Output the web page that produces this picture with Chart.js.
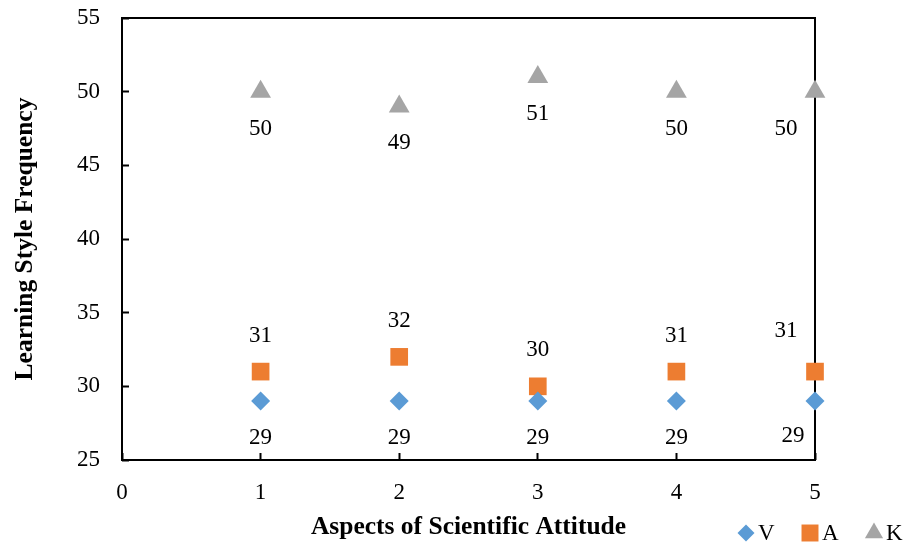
<!DOCTYPE html>
<html>
<head>
<meta charset="utf-8">
<script src="https://cdn.jsdelivr.net/npm/chart.js@4"></script>
<style>
  html, body { margin: 0; padding: 0; background: #fff; }
  #wrap { width: 907px; height: 546px; }
</style>
</head>
<body>
<div id="wrap"><canvas id="chart"></canvas></div>
<script>
// Data
const aspects = [1, 2, 3, 4, 5];
const visual = [29, 29, 29, 29, 29];
const auditory = [31, 32, 30, 31, 31];
const kinesthetic = [50, 49, 51, 50, 50];
const seriesNames = ["V", "A", "K"];

const FONT = '"Liberation Serif", "Times New Roman", serif';

const toPoints = vals => aspects.map((x, i) => ({ x: x, y: vals[i] }));

// Frame round the plot area (drawn under the markers)
const frame = {
  id: "frame",
  beforeDatasetsDraw(chart) {
    const { left, top, right, bottom } = chart.chartArea;
    const ctx = chart.ctx;
    ctx.save();
    ctx.strokeStyle = "#000";
    ctx.lineWidth = 2;
    ctx.strokeRect(left, top, right - left, bottom - top);
    ctx.restore();
  }
};

// Value labels next to the markers
const pointLabels = {
  id: "pointLabels",
  afterDatasetsDraw(chart) {
    const ctx = chart.ctx;
    ctx.save();
    ctx.font = "23px " + FONT;
    ctx.fillStyle = "#000";
    ctx.textAlign = "center";
    ctx.textBaseline = "middle";
    chart.data.datasets.forEach((ds, i) => {
      const meta = chart.getDatasetMeta(i);
      meta.data.forEach((pt, j) => {
        const last = j === meta.data.length - 1;
        let dx = last ? -29 : 0;
        let dy = ds.label === "A" ? -36 : 37;
        if (last && ds.label === "A") dy = -41;
        if (last && ds.label === "V") { dx = -22; dy = 35; }
        ctx.fillText(ds.data[j].y, pt.x + dx, pt.y + dy);
      });
    });
    ctx.restore();
  }
};

// Legend on the same row as the x title, bottom right
const bottomLegend = {
  id: "bottomLegend",
  afterDraw(chart) {
    const ctx = chart.ctx;
    const y = 533;
    const sizes = { rectRot: 8.5, rect: 12, triangle: 10.5 };
    ctx.save();
    ctx.font = "23px " + FONT;
    ctx.textAlign = "left";
    ctx.textBaseline = "middle";
    chart.data.datasets.forEach((ds, i) => {
      const cx = 746 + i * 64;
      ctx.fillStyle = ds.backgroundColor;
      ctx.strokeStyle = ds.borderColor;
      Chart.helpers.drawPoint(ctx, {
        pointStyle: ds.pointStyle,
        radius: sizes[ds.pointStyle],
        rotation: 0,
        borderWidth: 0
      }, cx, y);
      ctx.fillStyle = "#000";
      ctx.fillText(ds.label, cx + 12, y + 1);
    });
    ctx.restore();
  }
};

const tickFont = { family: FONT, size: 23 };
const titleFont = { family: FONT, size: 25.5, weight: "bold" };

new Chart(document.getElementById("chart"), {
  type: "scatter",
  data: {
    datasets: [
      {
        label: seriesNames[0],
        data: toPoints(visual),
        pointStyle: "rectRot",
        pointRadius: 9.5,
        backgroundColor: "#5B9BD5",
        borderColor: "#5B9BD5",
        borderWidth: 0,
        clip: false
      },
      {
        label: seriesNames[1],
        data: toPoints(auditory),
        pointStyle: "rect",
        pointRadius: 12.5,
        backgroundColor: "#ED7D31",
        borderColor: "#ED7D31",
        borderWidth: 0,
        clip: false
      },
      {
        label: seriesNames[2],
        data: toPoints(kinesthetic),
        pointStyle: "triangle",
        pointRadius: 12,
        backgroundColor: "#A5A5A5",
        borderColor: "#A5A5A5",
        borderWidth: 0,
        clip: false
      }
    ]
  },
  options: {
    responsive: true,
    maintainAspectRatio: false,
    animation: false,
    layout: { padding: { left: 0, right: 92, top: 0, bottom: 0 } },
    plugins: {
      legend: { display: false },
      tooltip: { enabled: false }
    },
    scales: {
      x: {
        type: "linear",
        min: 0,
        max: 5,
        ticks: { stepSize: 1, color: "#000", font: tickFont, padding: 26 },
        grid: { drawOnChartArea: false, tickLength: -7, tickColor: "#000", tickWidth: 2 },
        border: { display: false },
        title: {
          display: true,
          text: "Aspects of Scientific Attitude",
          color: "#000",
          font: titleFont,
          padding: { top: 0, bottom: 3 }
        },
        afterFit: s => { s.height = 86; }
      },
      y: {
        min: 25,
        max: 55,
        ticks: { stepSize: 5, color: "#000", font: tickFont, padding: 29 },
        grid: { drawOnChartArea: false, tickLength: -7, tickColor: "#000", tickWidth: 2 },
        border: { display: false },
        title: {
          display: true,
          text: "Learning Style Frequency",
          color: "#000",
          font: titleFont,
          padding: { top: 10, bottom: 0 }
        },
        afterFit: s => {
          s.width = 122;
          s.paddingTop = 18;
          s.paddingBottom = 0;
        }
      }
    }
  },
  plugins: [frame, pointLabels, bottomLegend]
});
</script>
</body>
</html>
